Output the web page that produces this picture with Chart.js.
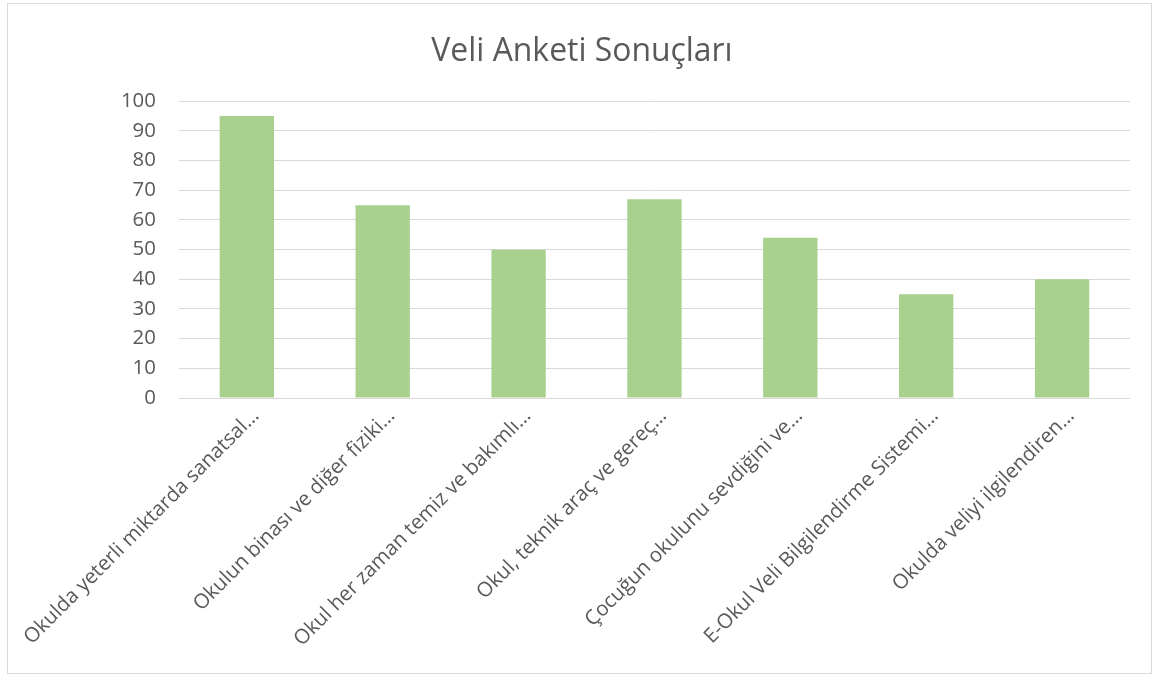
<!DOCTYPE html>
<html>
<head>
<meta charset="utf-8">
<script src="https://cdn.jsdelivr.net/npm/chart.js@4"></script>
<style>
  html, body { margin: 0; padding: 0; background: #ffffff; }
  #wrap { position: relative; width: 1152px; height: 675px; }
  #frame { position: absolute; left: 7px; top: 3px; width: 1143px; height: 669px; border: 1px solid #d9d9d9; pointer-events: none; }
  canvas { position: absolute; left: 0; top: 0; }
</style>
</head>
<body>
<div id="wrap">
  <canvas id="c" width="1152" height="675"></canvas>
  <div id="frame"></div>
</div>
<script>
const chartTitle = "Veli Anketi Sonuçları";
const categories = [
  "Okulda yeterli miktarda sanatsal…",
  "Okulun binası ve diğer fiziki…",
  "Okul her zaman temiz ve bakımlı…",
  "Okul, teknik araç ve gereç…",
  "Çocuğun okulunu sevdiğini ve…",
  "E-Okul Veli Bilgilendirme Sistemi…",
  "Okulda veliyi ilgilendiren…"
];
const values = [95, 65, 50, 67, 54, 35, 40];
const yMin = 0, yMax = 100, yStep = 10;

const textColor = "#595959";
const gridColor = "#d9d9d9";
const FAMILY = "'Open Sans'";

// pick font sizes so rendered text widths match the reference's text widths
const mctx = document.createElement("canvas").getContext("2d");
function fitSize(text, target) {
  mctx.font = "normal 100px " + FAMILY;
  return Math.round(10 * 100 * target / mctx.measureText(text).width) / 10;
}
const titleSize = fitSize(chartTitle, 301);
const yTickSize = fitSize("100", 35);
const xTickSize = fitSize(categories[0], 322);

new Chart(document.getElementById("c"), {
  type: "bar",
  data: {
    labels: categories,
    datasets: [{
      data: values,
      backgroundColor: "#a9d18e",
      borderWidth: 0,
      barPercentage: 0.4,
      categoryPercentage: 1.0
    }]
  },
  options: {
    responsive: false,
    animation: false,
    devicePixelRatio: 1,
    layout: { padding: { left: 34, right: 22, top: 0, bottom: 0 } },
    plugins: {
      legend: { display: false },
      tooltip: { enabled: false },
      title: {
        display: true,
        text: chartTitle,
        color: textColor,
        font: { family: FAMILY, size: titleSize, weight: "normal" },
        padding: { top: 33, bottom: 101 - 33 - Math.round(titleSize * 1.2) }
      }
    },
    scales: {
      x: {
        grid: { display: false, drawTicks: false },
        border: { display: false },
        ticks: {
          color: textColor,
          font: { family: FAMILY, size: xTickSize },
          minRotation: 45,
          maxRotation: 45,
          autoSkip: false,
          padding: 6,
          labelOffset: 9
        },
        afterFit: (s) => { s.height = 277; }
      },
      y: {
        min: yMin,
        max: yMax,
        grid: { color: gridColor, lineWidth: 1, drawTicks: false },
        border: { display: false },
        ticks: {
          stepSize: yStep,
          color: textColor,
          font: { family: FAMILY, size: yTickSize },
          padding: 23
        },
        afterFit: (s) => { s.width = 144; }
      }
    }
  }
});
</script>
</body>
</html>
